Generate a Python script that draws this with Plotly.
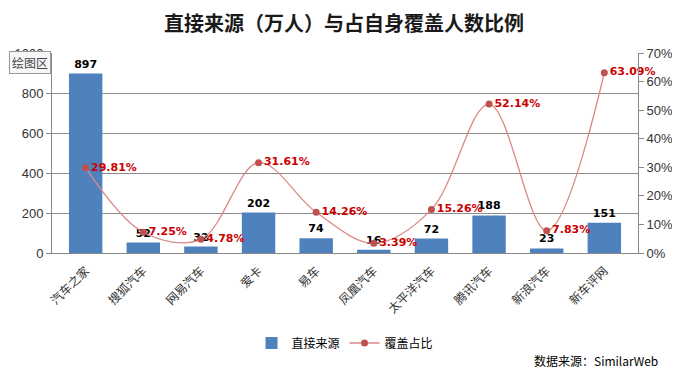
import plotly.graph_objects as go

categories = ["汽车之家", "搜狐汽车", "网易汽车", "爱卡", "易车", "凤凰汽车", "太平洋汽车", "腾讯汽车", "新浪汽车", "新车评网"]
direct_source = [897, 52, 32, 202, 74, 16, 72, 188, 23, 151]
coverage_pct = [29.81, 7.25, 4.78, 31.61, 14.26, 3.39, 15.26, 52.14, 7.83, 63.09]
left_ticks = [0, 200, 400, 600, 800, 1000]
right_ticks = [0, 10, 20, 30, 40, 50, 60, 70]

CJK = "Noto Sans CJK SC, Microsoft YaHei, sans-serif"
# page has an 8px body margin; figure sized to fit the 680x375 window
W, H = 672, 367

fig = go.Figure()
fig.add_trace(go.Bar(
    x=categories, y=direct_source, name="直接来源",
    marker=dict(color="#4f81bd", line=dict(width=0)),
    text=[str(v) for v in direct_source], textposition="outside",
    textfont=dict(family="DejaVu Sans, Verdana, sans-serif", size=11, color="#000000", weight="bold"),
    cliponaxis=False,
))
fig.add_trace(go.Scatter(
    x=categories, y=coverage_pct, name="覆盖占比", yaxis="y2",
    mode="lines+markers+text",
    line=dict(color="#d98a88", width=1.3, shape="spline", smoothing=1.0),
    marker=dict(color="#c0504d", size=7),
    text=[f"{v:.2f}%" for v in coverage_pct], textposition="middle right",
    textfont=dict(family="DejaVu Sans, Verdana, sans-serif", size=11, color="#cc0000", weight="bold"),
    cliponaxis=False,
))

fig.update_layout(
    width=W, height=H,
    margin=dict(l=44, r=42, t=45, b=122),
    paper_bgcolor="white", plot_bgcolor="white",
    bargap=0.42,
    title=dict(text="<b>直接来源（万人）与占自身覆盖人数比例</b>", x=0.5, xanchor="center",
               y=1 - 16/H, yanchor="middle",
               font=dict(family=CJK, size=20, color="#1a1a1a")),
    xaxis=dict(tickangle=-45, tickfont=dict(family=CJK, size=12, color="#333333"), automargin=False,
               showline=True, linecolor="#888888", linewidth=1, ticks="outside", ticklen=5,
               tickcolor="rgba(0,0,0,0)", showgrid=False),
    yaxis=dict(range=[0, 1000], tickvals=left_ticks, ticks="outside", ticklen=5, tickcolor="#888888",
               showline=True, linecolor="#888888", showgrid=True, gridcolor="#8c8c8c", gridwidth=1,
               tickfont=dict(family="Liberation Sans, Arial, sans-serif", size=13, color="#333333"),
               zeroline=False, automargin=False),
    yaxis2=dict(range=[0, 70], tickvals=right_ticks, ticktext=[f"{v}%" for v in right_ticks],
                overlaying="y", side="right", ticks="outside", ticklen=5, tickcolor="#888888",
                showline=True, linecolor="#888888", showgrid=False, zeroline=False, automargin=False,
                tickfont=dict(family="Liberation Sans, Arial, sans-serif", size=13, color="#333333")),
    legend=dict(orientation="h", x=0.5, xanchor="center", y=-(343-253)/200, yanchor="middle",
                font=dict(family=CJK, size=12, color="#000000"), itemwidth=30),
    showlegend=True,
)

fig.add_annotation(text="数据来源：SimilarWeb", xref="paper", yref="paper",
                   x=(660-52)/586, xanchor="right", y=-(360-253)/200, yanchor="middle",
                   showarrow=False, font=dict(family=CJK, size=12, color="#000000"))
fig.add_annotation(text="绘图区", xref="paper", yref="paper",
                   x=-(52-9)/586, xanchor="left", y=1 - (62-53)/200, yanchor="middle",
                   showarrow=False, font=dict(family=CJK, size=12, color="#444444"),
                   bgcolor="#f7f7f7", bordercolor="#999999", borderwidth=1, borderpad=2)

fig.write_html("out.html")
